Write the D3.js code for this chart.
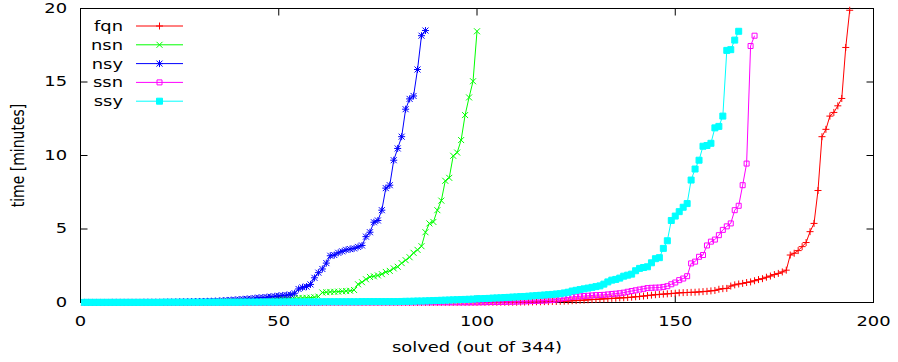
<!DOCTYPE html>
<html><head><meta charset="utf-8">
<script src="https://cdn.jsdelivr.net/npm/d3@7"></script>
<style>
body{margin:0;background:#fff}
svg{display:block}
text{font-family:"DejaVu Sans",sans-serif;font-size:14px;fill:#000}
</style>
</head><body><script>
// ---- data (time in minutes for the i-th solved instance, sorted) ----
const fqn=[
0,0,0,0,0,0,0,0,0,0,
0,0,0,0,0,0,0,0,0,0,
0,0,0,0,0,0,0,0,0,0,
0,0,0,0,0,0,0,0,0,0,
0,0,0,0,0,0,0,0,0,0,
0,0,0,0,0,0,0,0,0,0,
0.01,0.01,0.01,0.01,0.01,0.01,0.01,0.01,0.01,0.01,
0.01,0.01,0.01,0.01,0.01,0.01,0.01,0.01,0.01,0.01,
0.01,0.01,0.01,0.01,0.01,0.01,0.01,0.01,0.01,0.01,
0.01,0.01,0.01,0.01,0.01,0.01,0.01,0.01,0.01,0.01,
0.02,0.02,0.02,0.02,0.02,0.02,0.02,0.02,0.02,0.02,
0.03,0.03,0.04,0.04,0.05,0.05,0.06,0.06,0.07,0.07,
0.08,0.09,0.1,0.12,0.13,0.15,0.16,0.18,0.2,0.21,
0.23,0.25,0.26,0.28,0.29,0.31,0.32,0.34,0.36,0.39,
0.41,0.44,0.47,0.5,0.53,0.55,0.57,0.59,0.61,0.63,
0.66,0.67,0.68,0.69,0.7,0.72,0.74,0.76,0.79,0.82,
0.9,0.94,0.96,1.12,1.2,1.26,1.3,1.36,1.4,1.48,
1.56,1.62,1.72,1.8,1.9,1.98,2.08,2.2,3.23,3.35,
3.53,3.8,4.08,4.82,5.38,7.62,11.28,11.78,12.68,12.93,
13.38,13.88,17.35,19.88];
const nsn=[
0.01,0.01,0.01,0.01,0.01,0.01,0.01,0.01,0.01,0.01,
0.02,0.02,0.02,0.02,0.02,0.02,0.02,0.02,0.02,0.02,
0.03,0.03,0.03,0.03,0.03,0.03,0.03,0.03,0.03,0.03,
0.04,0.04,0.05,0.05,0.06,0.06,0.07,0.08,0.09,0.1,
0.11,0.12,0.13,0.14,0.15,0.16,0.18,0.2,0.22,0.24,
0.26,0.27,0.28,0.29,0.3,0.31,0.32,0.33,0.36,0.4,
0.68,0.7,0.72,0.73,0.74,0.76,0.78,0.8,0.85,1.24,
1.38,1.58,1.74,1.78,1.84,1.93,2.08,2.15,2.32,2.43,
2.68,2.88,3.08,3.38,3.58,3.83,4.78,5.38,5.48,6.28,
6.93,8.28,8.48,9.98,10.2,11.05,12.75,13.95,15.05,18.45];
const nsy=[
0.01,0.01,0.01,0.01,0.01,0.01,0.01,0.02,0.02,0.02,
0.02,0.02,0.02,0.02,0.02,0.03,0.03,0.03,0.03,0.03,
0.03,0.04,0.04,0.04,0.05,0.05,0.05,0.06,0.06,0.07,
0.07,0.08,0.09,0.1,0.11,0.13,0.14,0.16,0.18,0.2,
0.22,0.24,0.26,0.29,0.32,0.34,0.36,0.39,0.42,0.45,
0.48,0.5,0.53,0.63,0.92,1.03,1.08,1.23,1.68,2.03,
2.28,2.68,3.18,3.23,3.38,3.48,3.58,3.63,3.68,3.78,
3.88,4.48,4.78,5.46,5.58,6.28,7.78,7.98,9.68,10.48,
11.28,13.15,13.85,14.05,15.85,18.15,18.5];
const ssn=[
0,0,0,0,0,0,0,0,0,0,
0,0,0,0,0,0,0,0,0,0,
0,0,0,0,0,0,0,0,0,0,
0,0,0,0,0,0,0,0,0,0,
0,0,0,0,0,0,0,0,0,0,
0,0,0,0,0,0,0,0,0,0,
0.01,0.01,0.01,0.01,0.01,0.01,0.01,0.01,0.01,0.01,
0.01,0.01,0.01,0.01,0.01,0.01,0.01,0.01,0.01,0.01,
0.01,0.01,0.01,0.01,0.01,0.01,0.01,0.01,0.01,0.01,
0.01,0.01,0.01,0.01,0.01,0.01,0.01,0.01,0.01,0.01,
0.02,0.02,0.03,0.03,0.03,0.04,0.04,0.05,0.05,0.06,
0.07,0.08,0.09,0.1,0.11,0.12,0.13,0.15,0.17,0.2,
0.26,0.3,0.34,0.38,0.4,0.42,0.44,0.46,0.48,0.5,
0.51,0.52,0.55,0.58,0.6,0.63,0.67,0.73,0.78,0.83,
0.88,0.93,0.98,1.0,1.01,1.02,1.06,1.11,1.24,1.36,
1.52,1.63,1.79,2.66,2.78,3.11,3.23,3.88,4.14,4.28,
4.58,4.94,5.18,5.38,6.28,6.58,7.98,9.45,17.45,18.15];
const ssy=[
0.01,0.01,0.01,0.01,0.01,0.01,0.01,0.01,0.01,0.01,
0.01,0.01,0.01,0.01,0.01,0.01,0.01,0.01,0.01,0.01,
0.02,0.02,0.02,0.02,0.02,0.02,0.02,0.02,0.02,0.02,
0.02,0.02,0.02,0.02,0.02,0.02,0.02,0.02,0.02,0.02,
0.03,0.03,0.03,0.03,0.03,0.03,0.03,0.03,0.03,0.03,
0.04,0.04,0.04,0.04,0.04,0.04,0.04,0.04,0.04,0.04,
0.05,0.05,0.05,0.05,0.05,0.05,0.05,0.05,0.05,0.05,
0.06,0.06,0.06,0.06,0.06,0.06,0.06,0.06,0.06,0.06,
0.07,0.08,0.08,0.09,0.1,0.1,0.11,0.12,0.13,0.14,
0.15,0.16,0.17,0.18,0.19,0.2,0.21,0.22,0.23,0.25,
0.26,0.27,0.28,0.3,0.31,0.32,0.34,0.35,0.37,0.38,
0.4,0.41,0.43,0.45,0.47,0.49,0.51,0.53,0.55,0.58,
0.6,0.65,0.7,0.78,0.83,0.88,0.93,0.98,1.03,1.08,
1.13,1.25,1.4,1.52,1.57,1.66,1.79,1.86,1.93,2.16,
2.32,2.38,2.43,2.7,2.98,3.05,3.68,4.2,5.58,5.88,
6.18,6.48,6.73,8.33,9.08,9.68,10.63,10.68,10.83,11.88,
11.98,12.68,17.15,17.2,17.85,18.45];

const seriesNames=["fqn","nsn","nsy","ssn","ssy"];
const seriesValues=[fqn,nsn,nsy,ssn,ssy];
const seriesColors=["#ff0000","#00ff00","#0000ff","#ff00ff","#00ffff"];
const seriesMarkers=["plus","cross","star","square","filledSquare"];
const xTicks=[0,50,100,150,200];
const yTicks=[0,5,10,15,20];
const xTitle="solved (out of 344)";
const yTitle="time [minutes]";

// ---- drawing ----
const W=898,H=362,TX=1.28;
const svg=d3.select("body").append("svg").attr("width",W).attr("height",H);
const x=d3.scaleLinear().domain([0,200]).range([80.5,873.5]);
const y=d3.scaleLinear().domain([0,20]).range([302.5,8.5]);

const markerPath={
  plus:"M-3.5,0H3.5M0,-3.5V3.5",
  cross:"M-3,-3L3,3M-3,3L3,-3",
  star:"M-3.5,0H3.5M0,-3.5V3.5M-3,-3L3,3M-3,3L3,-3",
  square:"M-2.5,-2.5H2.5V2.5H-2.5Z",
  filledSquare:"M-3,-3H3V3H-3Z"
};
function styleMarker(sel,type,color){
  sel.attr("d",markerPath[type]).attr("stroke",color).attr("stroke-width",1)
     .attr("fill",type==="filledSquare"?color:"none");
}

// axes with inward ticks
function fixText(g){
  g.attr("font-family",null).attr("font-size",null);
  g.select(".domain").remove();
}
const gB=svg.append("g").attr("transform",`translate(0,${y(0)})`)
  .call(d3.axisBottom(x).tickValues(xTicks).tickSize(-7).tickPadding(14).offset(0));
fixText(gB); gB.selectAll("text").attr("transform",`scale(${TX},1)`);
const gT=svg.append("g").attr("transform",`translate(0,${y(20)})`)
  .call(d3.axisTop(x).tickValues(xTicks).tickSize(-7).tickFormat("").offset(0));
fixText(gT);
const gL=svg.append("g").attr("transform",`translate(${x(0)},0)`)
  .call(d3.axisLeft(y).tickValues(yTicks).tickSize(-7).tickPadding(10.5).offset(0));
fixText(gL); gL.selectAll("text").attr("transform",`scale(${TX},1)`);
const gR=svg.append("g").attr("transform",`translate(${x(200)},0)`)
  .call(d3.axisRight(y).tickValues(yTicks).tickSize(-7).tickFormat("").offset(0));
fixText(gR);

// frame
svg.append("rect").attr("x",x(0)).attr("y",y(20)).attr("width",x(200)-x(0)).attr("height",y(0)-y(20))
  .attr("fill","none").attr("stroke","#000").attr("stroke-width",1);

// titles
svg.append("text").attr("transform",`translate(477,352) scale(${TX},1)`).attr("text-anchor","middle").text(xTitle);
svg.append("text").attr("transform",`translate(24,155.5) scale(${TX},1) rotate(-90)`).attr("text-anchor","middle").text(yTitle);

// series
const line=d3.line().x((d,i)=>x(i+1)).y(d=>y(d));
seriesValues.forEach((vals,k)=>{
  const g=svg.append("g");
  g.append("path").datum(vals).attr("d",line).attr("fill","none")
    .attr("stroke",seriesColors[k]).attr("stroke-width",1);
  g.selectAll("path.m").data(vals).join("path").attr("class","m")
    .attr("transform",(d,i)=>`translate(${x(i+1)},${y(d)})`)
    .call(styleMarker,seriesMarkers[k],seriesColors[k]);
});

// legend
seriesNames.forEach((name,k)=>{
  const ly=26+k*18.8;
  const g=svg.append("g");
  g.append("text").attr("transform",`translate(123,${ly+5}) scale(${TX},1)`).attr("text-anchor","end").text(name);
  g.append("line").attr("x1",136).attr("x2",183).attr("y1",ly).attr("y2",ly)
    .attr("stroke",seriesColors[k]).attr("stroke-width",1);
  g.append("path").attr("transform",`translate(159.5,${ly})`).call(styleMarker,seriesMarkers[k],seriesColors[k]);
});
</script></body></html>
